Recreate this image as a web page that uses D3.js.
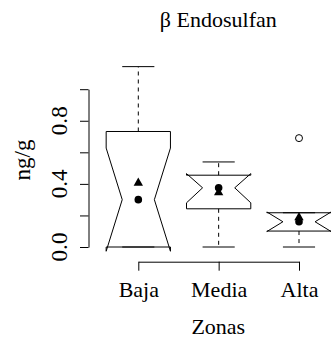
<!DOCTYPE html>
<html>
<head>
<meta charset="utf-8">
<script src="https://cdn.jsdelivr.net/npm/d3@7"></script>
<style>
  html, body { margin: 0; padding: 0; background: #fff; }
  svg { display: block; }
</style>
</head>
<body>
<svg id="chart" width="331" height="346"></svg>
<script>
// Zones and box statistics (ng/g)
const zonas = ["Baja", "Media", "Alta"];
const whiskerLow = [0.0, 0.0, 0.0];
const q1 = [0.0, 0.242, 0.101];
const mediana = [0.300, 0.375, 0.160];
const q3 = [0.732, 0.455, 0.217];
const whiskerHigh = [1.143, 0.539, 0.217];
const notchLow = [-0.027, 0.280, 0.098];
const notchHigh = [0.627, 0.465, 0.222];
const media = [0.406, 0.345, 0.187];
const atipicos = [[], [], [0.69]];
const yTicks = [0, 0.2, 0.4, 0.6, 0.8, 1.0];
const yTickLabels = ["0.0", "", "0.4", "", "0.8", ""];

const FONT = "'Liberation Serif'";
const K = 1.05; // enlargement for the rotated labels
const svg = d3.select("#chart");

const y = d3.scaleLinear().domain([0, 1]).range([247, 89.2]);
const x = d3.scalePoint().domain(zonas).range([138.3, 299]);
const halfW = 0.4 * x.step();
const notchW = 0.5 * halfW;
const stapleW = 0.5 * halfW;

function label(sel) {
  return sel.style("font-family", FONT).style("font-size", "22px").attr("fill", "#000");
}

// Title
svg.append("text")
  .attr("x", 218.3).attr("y", 26.7)
  .attr("text-anchor", "middle")
  .call(label)
  .text("β Endosulfan");

// Y axis
const yAxis = svg.append("g")
  .attr("transform", "translate(88.5,0)")
  .call(d3.axisLeft(y).tickValues(yTicks).tickSize(8.5).tickSizeOuter(0).tickFormat(""));
yAxis.selectAll("path, line").attr("stroke", "#000").attr("stroke-width", 1);

svg.append("g").selectAll("text")
  .data(yTicks.map((v, i) => ({ v, t: yTickLabels[i] })).filter(d => d.t))
  .join("text")
  .attr("transform", d => `translate(66.5,${y(d.v)}) rotate(-90) scale(${K})`)
  .attr("text-anchor", "middle")
  .call(label)
  .text(d => d.t);

svg.append("text")
  .attr("transform", `translate(30,160) rotate(-90) scale(${K})`)
  .attr("text-anchor", "middle")
  .call(label)
  .text("ng/g");

// X axis
const xAxis = svg.append("g")
  .attr("transform", "translate(0,261.7)")
  .call(d3.axisBottom(x).tickSize(9).tickSizeOuter(0));
xAxis.attr("font-family", null).attr("font-size", null);
xAxis.selectAll("path, line").attr("stroke", "#000").attr("stroke-width", 1);
xAxis.selectAll("text")
  .attr("y", 35)
  .attr("dy", 0)
  .call(label);

svg.append("text")
  .attr("x", 218.3).attr("y", 334.3)
  .attr("text-anchor", "middle")
  .call(label)
  .text("Zonas");

// Boxes
const g = svg.append("g");
zonas.forEach((z, i) => {
  const cx = x(z);
  // whiskers
  const wh = [[q3[i], whiskerHigh[i]], [q1[i], whiskerLow[i]]];
  wh.forEach(([a, b]) => {
    if (a !== b) {
      g.append("line")
        .attr("x1", cx).attr("x2", cx)
        .attr("y1", y(a)).attr("y2", y(b))
        .attr("stroke", "#000").attr("stroke-dasharray", "4,4");
    }
  });
  [whiskerLow[i], whiskerHigh[i]].forEach(v => {
    g.append("line")
      .attr("x1", cx - stapleW).attr("x2", cx + stapleW)
      .attr("y1", y(v)).attr("y2", y(v))
      .attr("stroke", "#000");
  });
  // notched box outline
  const pts = [
    [cx - halfW, q1[i]], [cx + halfW, q1[i]], [cx + halfW, notchLow[i]],
    [cx + notchW, mediana[i]], [cx + halfW, notchHigh[i]], [cx + halfW, q3[i]],
    [cx - halfW, q3[i]], [cx - halfW, notchHigh[i]], [cx - notchW, mediana[i]],
    [cx - halfW, notchLow[i]]
  ];
  g.append("path")
    .attr("d", d3.line().x(d => d[0]).y(d => y(d[1]))(pts) + "Z")
    .attr("fill", "none").attr("stroke", "#000").attr("stroke-width", 1);
  // outliers
  atipicos[i].forEach(v => {
    g.append("circle").attr("cx", cx).attr("cy", y(v)).attr("r", 3.5)
      .attr("fill", "none").attr("stroke", "#000");
  });
  // median point and mean triangle
  g.append("circle").attr("cx", cx).attr("cy", y(mediana[i])).attr("r", 3.8).attr("fill", "#000");
  g.append("path")
    .attr("transform", `translate(${cx},${y(media[i])})`)
    .attr("d", d3.symbol(d3.symbolTriangle, 38)())
    .attr("fill", "#000");
});
</script>
</body>
</html>
